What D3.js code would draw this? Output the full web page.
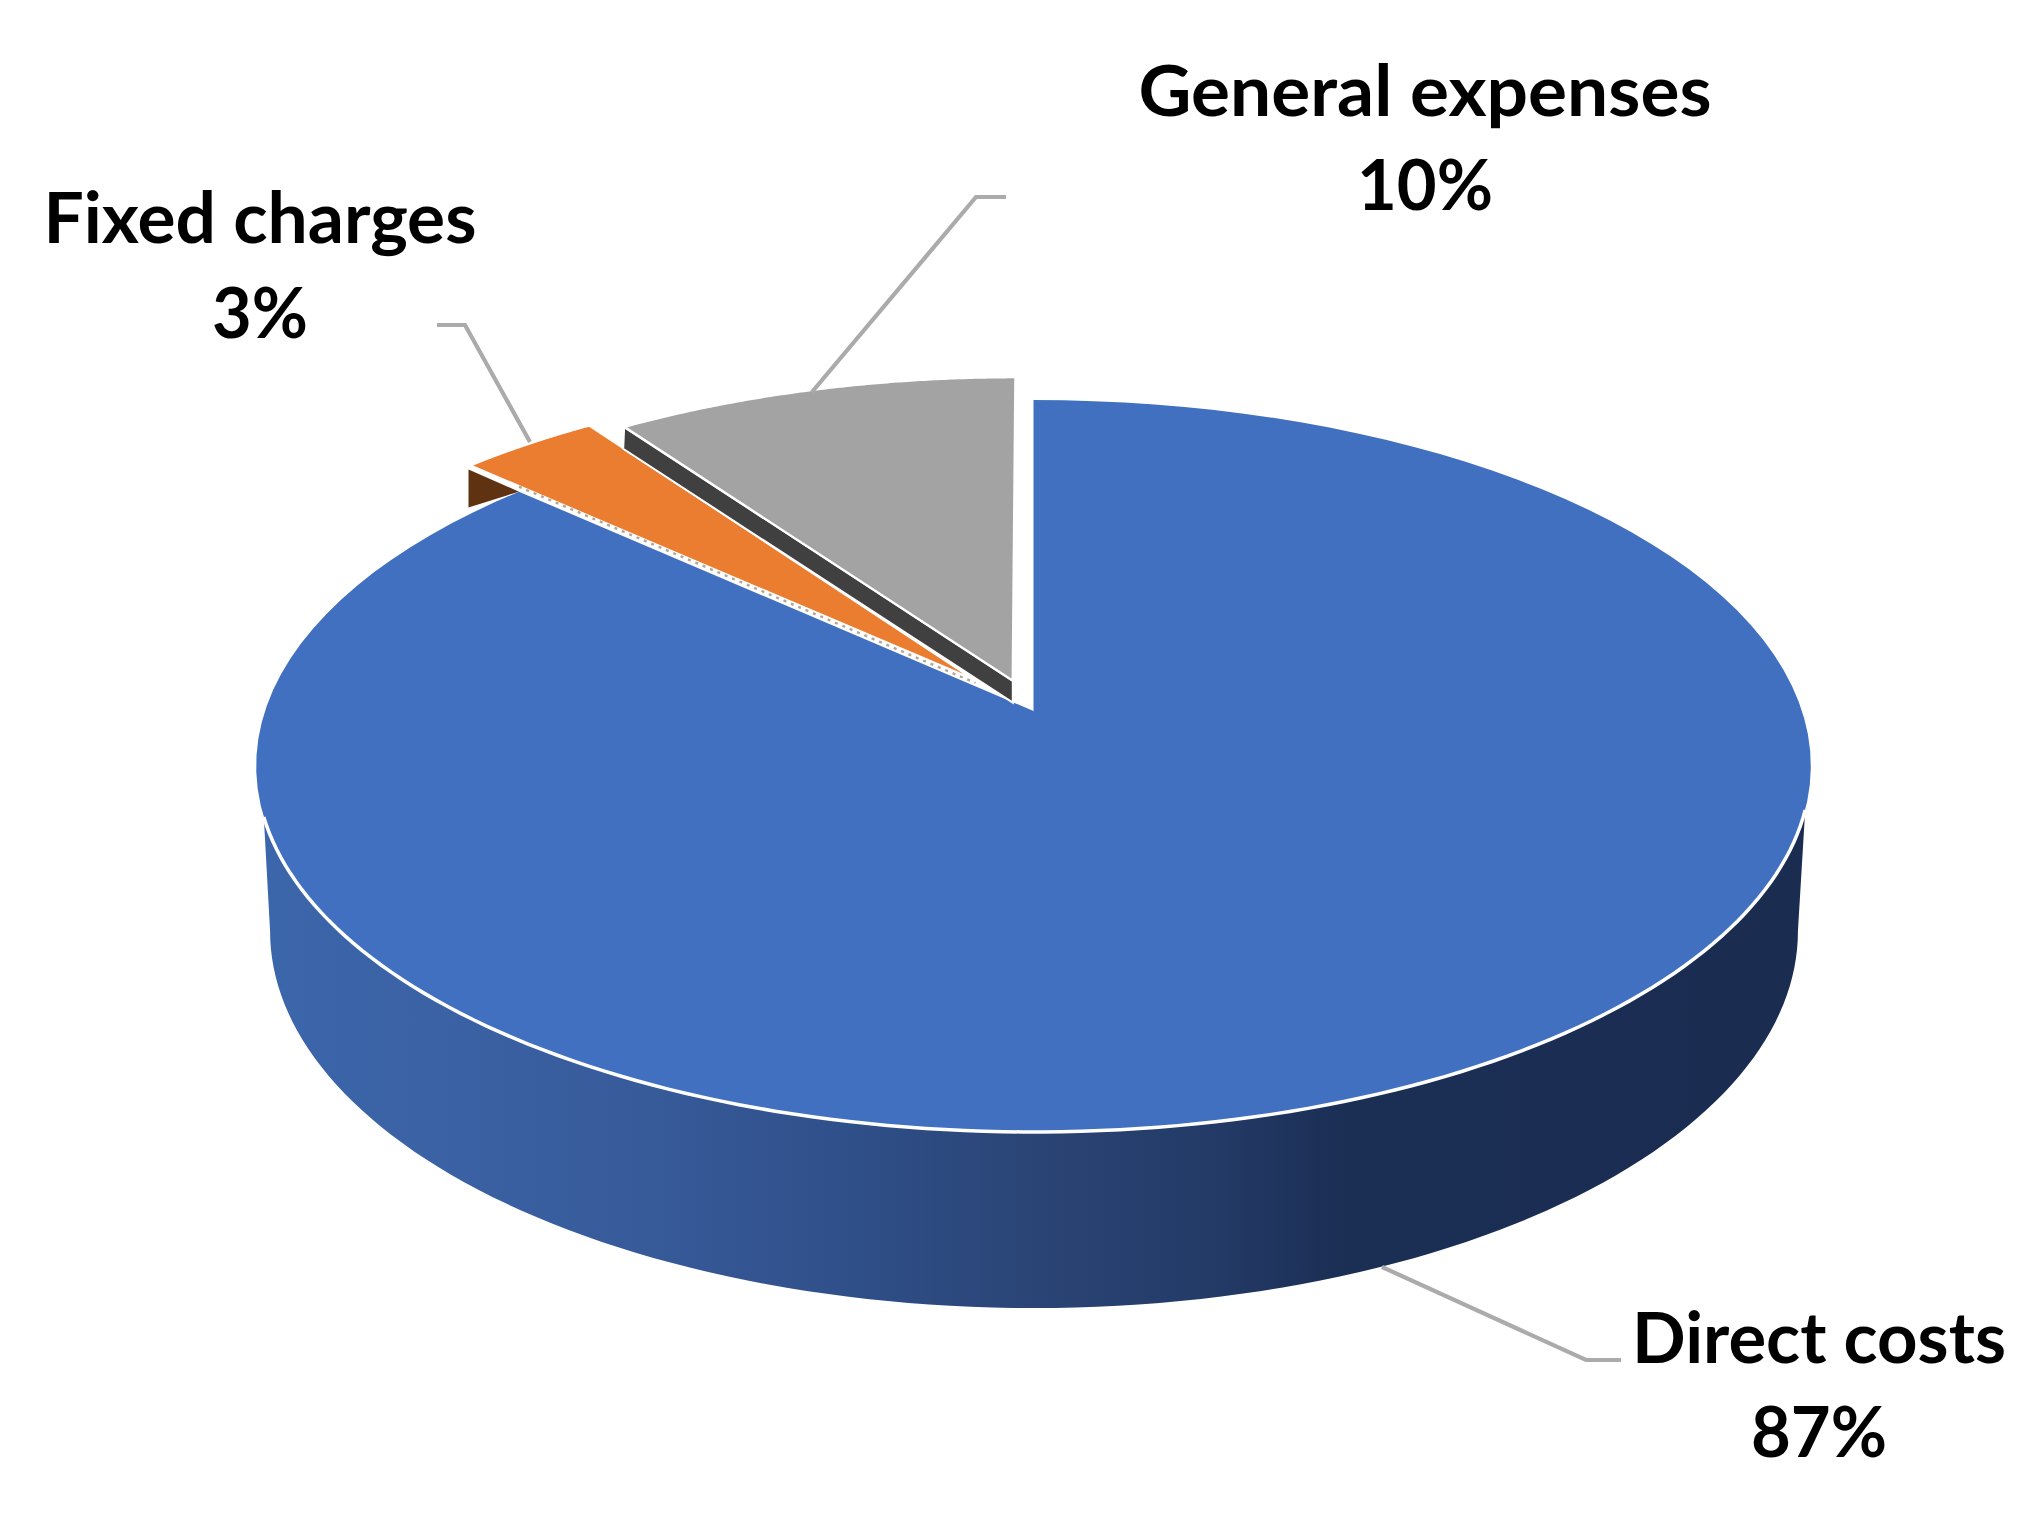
<!DOCTYPE html>
<html><head><meta charset="utf-8">
<script src="https://cdn.jsdelivr.net/npm/d3@7"></script>
<style>html,body{margin:0;background:#fff}svg{display:block}text{font-family:Lato,"Open Sans",sans-serif;font-weight:700;fill:#000}</style>
</head><body><svg id="c" width="2035" height="1519"></svg>
<script>
// data
const categories = ["Direct costs","Fixed charges","General expenses"];
const shares = [86.8,3.4,9.8];
// styles and layout
const colors = ["#4270c0","#eb7d30","#a3a3a3"];
const explode = [0,0.12,0.09];
const labelX = [1819,260,1425];
const labelBase = [[1363,1457],[243,338],[116,210]];
const labelW = [[374,136],[433,96],[573,136]];
const leaders = [[[1382,1267],[1586,1360],[1621,1360]],[[530,442],[465,325],[437,325]],[[812,392],[976,197],[1006,197]]];
const topPlane = {x0:1033.5,y0:711,a:768.5,b:357.7,k:0.1503};
const lowPlane = {x0:1034,y0:874.5,a:755.3,b:368.5,k:0.15};

const svg = d3.select("#c");
const rad = d=>d*Math.PI/180;
const project = (t,p,ox=0,oy=0,r=1)=>{
  const X=r*Math.sin(t)+ox, Y=r*Math.cos(t)+oy, w=1+p.k*Y;
  return [p.x0+p.a*X/w, p.y0-p.b*Y/w];
};
const line = d3.line();
const arcPts = (a0,a1,p,ox=0,oy=0)=>d3.range(0,121).map(i=>project(a0+(a1-a0)*i/120,p,ox,oy));

const arcs = d3.pie().sort(null)(shares).map((s,i)=>{
  const mid=(s.startAngle+s.endAngle)/2;
  return {...s,i,ox:explode[i]*Math.sin(mid),oy:explode[i]*Math.cos(mid)};
});
const slicePts = s=>[project(0,topPlane,s.ox,s.oy,0),...arcPts(s.startAngle,s.endAngle,topPlane,s.ox,s.oy)];

// side wall of the largest slice
const defs = svg.append("defs");
const grad = defs.append("linearGradient").attr("id","wall").attr("gradientUnits","userSpaceOnUse")
  .attr("x1",260).attr("x2",1810).attr("y1",0).attr("y2",0);
[[0,"#3c66ab"],[0.13,"#3a61a3"],[0.25,"#375a99"],[0.38,"#2f4f89"],[0.5,"#2a4475"],[0.62,"#233a66"],[0.70,"#1b2e54"],[1,"#1a2c50"]]
  .forEach(([o,c])=>grad.append("stop").attr("offset",o).attr("stop-color",c));
const rim = arcPts(rad(105.4),rad(253.5),topPlane);
const base = arcPts(rad(261.4),rad(98.6),lowPlane);
svg.append("path").attr("d",line([...rim,...base])+"Z").attr("fill","url(#wall)");

const [blue,orange,gray] = arcs;
// cut face of the orange slice
const oc = project(orange.startAngle,topPlane,orange.ox,orange.oy);
const bc = project(blue.endAngle,topPlane);
svg.append("path").attr("d",line([[oc[0]-2,oc[1]+4],[oc[0]-2,oc[1]+42],bc])+"Z").attr("fill","#5f3212");

// top faces
svg.append("path").attr("d",line(slicePts(blue))+"Z").attr("fill",colors[0]);
svg.append("path").attr("d",line(rim)).attr("fill","none").attr("stroke","#fff").attr("stroke-width",3.5);

// orange slice, then the hatched trace along the seam between blue and orange
const apex = project(0,topPlane,0,0,0);
svg.append("path").attr("d",line(slicePts(orange))+"Z").attr("fill",colors[1])
  .attr("stroke","#fff").attr("stroke-width",2).attr("stroke-linejoin","round");
svg.append("path").attr("d",line([[bc[0],bc[1]-5],[apex[0]-58,apex[1]-28]]))
  .attr("fill","none").attr("stroke","#b5a595").attr("stroke-width",2.4).attr("stroke-dasharray","3 5");

// cut face of the gray slice
const ga = project(0,topPlane,gray.ox,gray.oy,0);
const gc = project(gray.startAngle,topPlane,gray.ox,gray.oy);
svg.append("path").attr("d",line([gc,ga,[ga[0],ga[1]+22],[gc[0]-1,gc[1]+22]])+"Z")
  .attr("fill","#404040").attr("stroke","#fff").attr("stroke-width",2);
svg.append("path").attr("d",line(slicePts(gray))+"Z").attr("fill",colors[2])
  .attr("stroke","#fff").attr("stroke-width",2.5).attr("stroke-linejoin","round");

// leaders
leaders.forEach(l=>svg.append("path").attr("d",line(l)).attr("fill","none")
  .attr("stroke","#ababab").attr("stroke-width",4.2).attr("stroke-linejoin","miter"));

// labels
categories.forEach((c,i)=>{
  [c,Math.round(shares[i])+"%"].forEach((t,j)=>{
    svg.append("text").attr("x",labelX[i]).attr("y",labelBase[i][j]).attr("text-anchor","middle")
      .attr("font-size",71).attr("textLength",labelW[i][j]).attr("lengthAdjust","spacingAndGlyphs").text(t);
  });
});
</script></body></html>
